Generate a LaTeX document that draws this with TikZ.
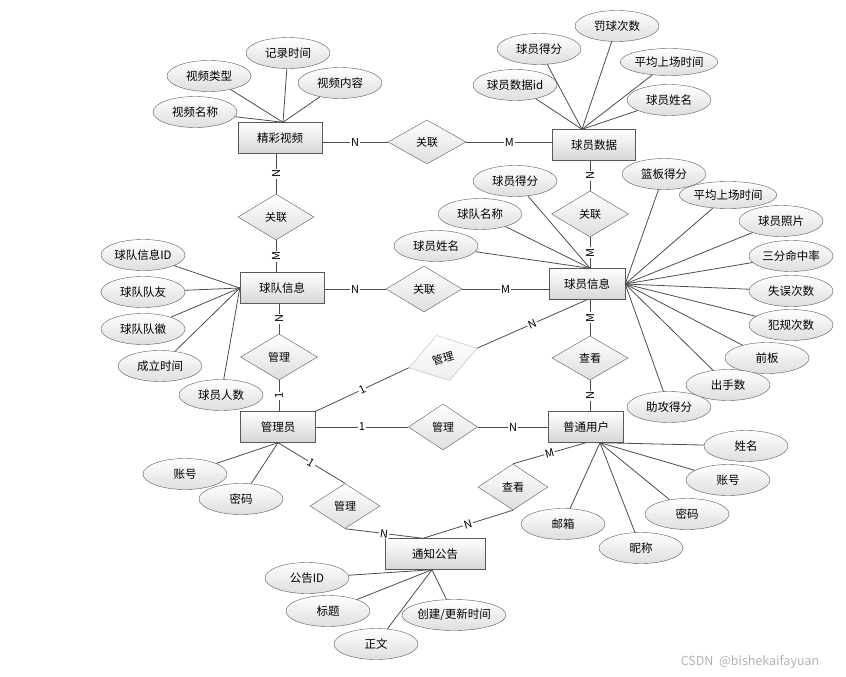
\documentclass[tikz,border=0pt]{standalone}
\usepackage{fontspec}
\setmainfont{Noto Sans CJK SC}
\usetikzlibrary{shapes.geometric, positioning, calc}
\tikzset{
    entity/.style={draw=black!65, top color=white, bottom color=black!16,
        minimum width=#1, minimum height=31pt, inner sep=0pt,
        font=\fontsize{11.5}{13}\selectfont},
    entity/.default=84pt,
    attr/.style={ellipse, draw=black!65, top color=white, bottom color=black!13,
        minimum width=84pt, minimum height=31pt, inner sep=0pt,
        font=\fontsize{11.5}{13}\selectfont},
    rel/.style 2 args={diamond, draw=black!65, top color=white, bottom color=black!13,
        minimum width=#1, minimum height=#2, inner sep=0pt,
        font=\fontsize{11}{13}\selectfont},
    card/.style={fill=white, inner sep=1pt, font=\fontsize{11}{12}\selectfont},
    link/.style={draw=black!70, line width=0.8pt}
}

\begin{document}
\begin{tikzpicture}[x=1pt, y=-1pt]
    \useasboundingbox (0,0) rectangle (846,677);
    % entities
    \node[entity] (v) at (280,138) {精彩视频};
    \node[entity=83pt] (pd) at (594,145) {球员数据};
    \node[entity=76pt] (pi) at (587,284) {球员信息};
    \node[entity] (ti) at (282,288) {球队信息};
    \node[entity=75pt] (ad) at (278,427) {管理员};
    \node[entity=75pt] (us) at (586,427) {普通用户};
    \node[entity=100pt] (nt) at (435,554) {通知公告};
    % relations
    \node[rel={78pt}{44pt}] (r1) at (427,142) {关联};
    \node[rel={76pt}{46pt}] (r2) at (276,217) {关联};
    \node[rel={77pt}{46pt}] (r3) at (590,214) {关联};
    \node[rel={76pt}{46pt}] (r4) at (424,289) {关联};
    \node[rel={77pt}{46pt}] (r5) at (279,357) {管理};
    \node[rel={71pt}{47pt}, rotate=16, draw=black!28, bottom color=black!7] (r6) at (443,358) {管理};
    \node[rel={76pt}{44pt}] (r7) at (590,358) {查看};
    \node[rel={69pt}{46pt}] (r8) at (443,427) {管理};
    \node[rel={70pt}{45pt}] (r9) at (345,506) {管理};
    \node[rel={70pt}{46pt}] (r10) at (513,487) {查看};
    % meeting points of the attribute lines
    \coordinate (vtop) at ([xshift=3pt]v.north);
    \coordinate (pdtop) at ([xshift=-12pt]pd.north);
    \coordinate (pitop) at ([xshift=3pt]pi.north);
    \coordinate (usbot) at ([xshift=14pt]us.south);
    \coordinate (ntbot) at ([xshift=-3pt]nt.south);
    \coordinate (ntin) at ([xshift=-12pt]nt.north);
    % relation lines
    \draw[link] (r1.west -| v.east) -- node[card]{N} (r1.west);
    \draw[link] (r1.east) -- node[card]{M} (r1.east -| pd.west);
    \draw[link] (r2.north |- v.south) -- node[card, rotate=90]{N} (r2.north);
    \draw[link] (r2.south) -- node[card, rotate=90]{M} (r2.south |- ti.north);
    \draw[link] (r3.north |- pd.south) -- node[card, rotate=90]{N} (r3.north);
    \draw[link] (r3.south) -- node[card, rotate=90]{M} (r3.south |- pi.north);
    \draw[link] (r4.west -| ti.east) -- node[card]{N} (r4.west);
    \draw[link] (r4.east) -- node[card]{M} (r4.east -| pi.west);
    \draw[link] (r5.north |- ti.south) -- node[card, rotate=90]{N} (r5.north);
    \draw[link] (r5.south) -- node[card, rotate=90]{1} (r5.south |- ad.north);
    \draw[link] (ad.north east) -- node[card, sloped]{1} (r6.west);
    \draw[link] (r6.east) -- node[card, sloped]{N} (pi.south);
    \draw[link] (r7.north |- pi.south) -- node[card, rotate=90]{M} (r7.north);
    \draw[link] (r7.south) -- node[card, rotate=90]{N} (r7.south |- us.north);
    \draw[link] (ad.east) -- node[card]{1} (r8.west);
    \draw[link] (r8.east) -- node[card]{N} (us.west);
    \draw[link] (ad.south) -- node[card, sloped]{1} (r9.north);
    \draw[link] (r9.south) -- node[card, sloped]{N} (ntin);
    \draw[link] (us.south) -- node[card, sloped]{M} (r10.north);
    \draw[link] (r10.south) -- node[card, sloped]{N} (ntin);
    % attributes
    \foreach \nm/\txt/\x/\y in {v1/视频名称/195/112, v2/视频类型/209/76, v3/记录时间/288/53, v4/视频内容/340/83}{
        \node[attr] (\nm) at (\x,\y) {\txt};
        \draw[link] (\nm) -- (vtop);
    }
    \foreach \nm/\txt/\x/\y in {d1/球员数据id/515/85, d2/球员得分/539/49, d3/罚球次数/617/26, d5/球员姓名/669/100}{
        \node[attr] (\nm) at (\x,\y) {\txt};
        \draw[link] (\nm) -- (pdtop);
    }
    \node[attr, minimum height=27pt] (d4) at (669,62) {平均上场时间};
    \draw[link] (d4) -- (pdtop);
    \foreach \nm/\txt/\x/\y in {p1/球员姓名/436/246, p2/球队名称/480/214, p3/球员得分/515/181}{
        \node[attr] (\nm) at (\x,\y) {\txt};
        \draw[link] (\nm) -- (pitop);
    }
    \foreach \nm/\txt/\x/\y in {q1/篮板得分/664/174, q3/球员照片/781/221, q4/三分命中率/791/256,
        q5/失误次数/791/291, q6/犯规次数/791/325, q7/前板/767/358, q8/出手数/728/385, q9/助攻得分/669/407}{
        \node[attr] (\nm) at (\x,\y) {\txt};
        \draw[link] (\nm) -- (pi.east);
    }
    \node[attr, minimum height=27pt] (q2) at (728,195) {平均上场时间};
    \draw[link] (q2) -- (pi.east);
    \foreach \nm/\txt/\x/\y in {t1/球队信息ID/143/255, t2/球队队友/143/292, t3/球队队徽/143/329,
        t4/成立时间/160/366, t5/球员人数/221/395}{
        \node[attr] (\nm) at (\x,\y) {\txt};
        \draw[link] (\nm) -- (ti.west);
    }
    \foreach \nm/\txt/\x/\y in {a1/账号/185/474, a2/密码/241/499}{
        \node[attr] (\nm) at (\x,\y) {\txt};
        \draw[link] (\nm) -- (ad.south);
    }
    \foreach \nm/\txt/\x/\y in {u1/姓名/746/446, u2/账号/728/480, u3/密码/687/514, u4/昵称/641/548, u5/邮箱/563/524}{
        \node[attr] (\nm) at (\x,\y) {\txt};
        \draw[link] (\nm) -- (usbot);
    }
    \foreach \nm/\txt/\x/\y in {n1/公告ID/307/578, n2/标题/328/611, n3/正文/376/644}{
        \node[attr] (\nm) at (\x,\y) {\txt};
        \draw[link] (\nm) -- (ntbot);
    }
    \node[attr] (n4) at (454,615) {创建/更新时间};
    \draw[link] (n4) -- (ntbot);
    \node[text=black!30, font=\fontsize{12.5}{13}\selectfont] (wm) at (750,662) {CSDN\ \ @bishekaifayuan};
\end{tikzpicture}
\end{document}
